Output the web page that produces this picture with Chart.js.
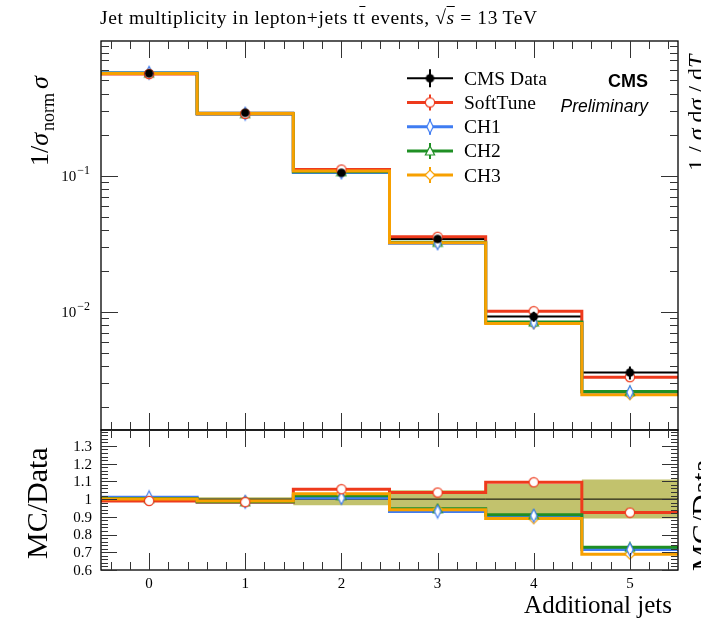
<!DOCTYPE html>
<html>
<head>
<meta charset="utf-8">
<script src="https://cdn.jsdelivr.net/npm/chart.js@4.4.1/dist/chart.umd.min.js"></script>
<style>
  html, body { margin: 0; padding: 0; background: #fff; }
  #wrap { position: relative; width: 701px; height: 629px; overflow: hidden; background: #fff; }
  #wrap canvas { position: absolute; left: 0; top: 0; }
  #title {
    position: absolute; left: 100px; top: 8px; line-height: 19px;
    font-family: "Liberation Serif", serif; font-size: 19.5px; letter-spacing: 0.6px;
    white-space: nowrap; color: #000;
  }
  .ol { text-decoration: overline; }
  .it { font-style: italic; }
</style>
</head>
<body>
<div id="wrap">
  <canvas id="mainChart" width="701" height="629"></canvas>
  <canvas id="ratioChart" width="701" height="629"></canvas>
  <div id="title">Jet multiplicity in lepton+jets t<span class="ol">t</span> events, &#8730;<span class="ol it">s</span> = 13&#8201;TeV</div>
</div>
<script>
// ---- values -------------------------------------------------------------
const jetBins = [0, 1, 2, 3, 4, 5];
const binEdges = [-0.5, 0.5, 1.5, 2.5, 3.5, 4.5, 5.5];
const xTickLabels = ['0', '1', '2', '3', '4', '5'];

// normalised cross section per jet-multiplicity bin
const cmsData   = [0.563, 0.289, 0.105, 0.0343, 0.00924, 0.00359];
const dataRelErr = [0.01, 0.01, 0.035, 0.05, 0.085, 0.11];
const softTune  = [0.557, 0.284, 0.1109, 0.0356, 0.01012, 0.00332];
const ch1       = [0.569, 0.285, 0.1056, 0.0319, 0.00838, 0.00257];
const ch2       = [0.565, 0.285, 0.1070, 0.0324, 0.00843, 0.00261];
const ch3       = [0.563, 0.286, 0.1082, 0.0322, 0.00822, 0.00247];

// MC / Data
const dataRatio     = [1, 1, 1, 1, 1, 1];
const softTuneRatio = [0.990, 0.983, 1.056, 1.037, 1.095, 0.924];
const ch1Ratio      = [1.010, 0.985, 1.006, 0.930, 0.907, 0.715];
const ch2Ratio      = [1.003, 0.985, 1.019, 0.945, 0.912, 0.728];
const ch3Ratio      = [1.000, 0.990, 1.030, 0.940, 0.890, 0.689];

const ratioTickValues = [0.6, 0.7, 0.8, 0.9, 1.0, 1.1, 1.2, 1.3];
const ratioTickLabels = ['0.6', '0.7', '0.8', '0.9', '1', '1.1', '1.2', '1.3'];
const logLabelDecades = [-1, -2];

// ---- styling ------------------------------------------------------------
const COL = {
  data: '#000000',
  soft: '#ee3a1c',
  ch1: '#3f7cf2',
  ch2: '#1f8f24',
  ch3: '#f7a000',
  band: '#c2c26d'
};
const SERIF = '"Liberation Serif", serif';
const SANS = '"Liberation Sans", sans-serif';

// small marker images used as point styles and in the legend
function markerCanvas(w, h, draw) {
  const c = document.createElement('canvas');
  c.width = w; c.height = h;
  const g = c.getContext('2d');
  draw(g, w, h);
  return c;
}
const mkData = markerCanvas(11, 11, (g) => {
  g.fillStyle = '#000'; g.beginPath(); g.arc(5.5, 5.5, 4.3, 0, Math.PI * 2); g.fill();
});
const mkCircle = (col) => markerCanvas(12, 12, (g) => {
  g.fillStyle = '#fff'; g.strokeStyle = col; g.lineWidth = 1.2;
  g.beginPath(); g.arc(6, 6, 4.6, 0, Math.PI * 2); g.fill(); g.stroke();
});
const mkNarrowDiamond = (col) => markerCanvas(10, 16, (g) => {
  g.fillStyle = '#fff'; g.strokeStyle = col; g.lineWidth = 1.2;
  g.beginPath(); g.moveTo(5, 1.5); g.lineTo(8.2, 8); g.lineTo(5, 14.5); g.lineTo(1.8, 8); g.closePath();
  g.fill(); g.stroke();
});
const mkTriangle = (col) => markerCanvas(12, 12, (g) => {
  g.fillStyle = '#fff'; g.strokeStyle = col; g.lineWidth = 1.2;
  g.beginPath(); g.moveTo(6, 1.2); g.lineTo(10.6, 10); g.lineTo(1.4, 10); g.closePath();
  g.fill(); g.stroke();
});
const mkDiamond = (col) => markerCanvas(12, 12, (g) => {
  g.fillStyle = '#fff'; g.strokeStyle = col; g.lineWidth = 1.2;
  g.beginPath(); g.moveTo(6, 1); g.lineTo(11, 6); g.lineTo(6, 11); g.lineTo(1, 6); g.closePath();
  g.fill(); g.stroke();
});

const series = [
  { label: 'CMS Data', vals: cmsData,  ratio: dataRatio,     color: COL.data, width: 2, marker: mkData, stem: 9 },
  { label: 'SoftTune', vals: softTune, ratio: softTuneRatio, color: COL.soft, width: 3, marker: mkCircle(COL.soft), stem: 8 },
  { label: 'CH1',      vals: ch1,      ratio: ch1Ratio,      color: COL.ch1,  width: 3, marker: mkNarrowDiamond(COL.ch1), stem: 8 },
  { label: 'CH2',      vals: ch2,      ratio: ch2Ratio,      color: COL.ch2,  width: 3, marker: mkTriangle(COL.ch2), stem: 8 },
  { label: 'CH3',      vals: ch3,      ratio: ch3Ratio,      color: COL.ch3,  width: 3, marker: mkDiamond(COL.ch3), stem: 8 }
];

// histogram outline: each bin becomes a flat segment between its edges
function histPoints(vals) {
  const pts = [];
  vals.forEach((v, i) => { pts.push({ x: binEdges[i], y: v }); pts.push({ x: binEdges[i + 1], y: v }); });
  return pts;
}
function centrePoints(vals) { return jetBins.map((b, i) => ({ x: b, y: vals[i] })); }

function histDataset(vals, color, width, order) {
  return {
    data: histPoints(vals), borderColor: color, borderWidth: width, pointRadius: 0,
    fill: false, tension: 0, borderJoinStyle: 'miter', borderCapStyle: 'butt', order: order
  };
}
function markerDataset(vals, img, order, tag) {
  return {
    data: centrePoints(vals), showLine: false, pointStyle: img, pointRadius: 5,
    pointHoverRadius: 5, order: order, tag: tag
  };
}

// ---- shared drawing helpers ----------------------------------------------
function drawFrame(ctx, a) {
  ctx.save();
  ctx.strokeStyle = '#000'; ctx.lineWidth = 1.3;
  ctx.strokeRect(a.left, a.top, a.right - a.left, a.bottom - a.top);
  ctx.restore();
}
function drawXTicks(ctx, xs, a) {
  ctx.save();
  ctx.strokeStyle = '#333'; ctx.lineWidth = 1;
  ctx.beginPath();
  for (let k = -1; k <= 5; k++) {
    for (let m = 0; m < 5; m++) {
      const v = k + m * 0.2;
      if (v <= xs.min + 1e-6 || v >= xs.max - 1e-6) continue;
      const len = m === 0 ? 17 : 8;
      const px = Math.round(xs.getPixelForValue(v)) + 0.5;
      ctx.moveTo(px, a.top); ctx.lineTo(px, a.top + len);
      ctx.moveTo(px, a.bottom); ctx.lineTo(px, a.bottom - len);
    }
  }
  ctx.stroke();
  ctx.restore();
}
function yTickLine(ctx, a, py, len) {
  const y = Math.round(py) + 0.5;
  ctx.moveTo(a.left, y); ctx.lineTo(a.left + len, y);
  ctx.moveTo(a.right, y); ctx.lineTo(a.right - len, y);
}
function drawRotatedRuns(ctx, x, y, runs) {
  ctx.save();
  ctx.translate(x, y); ctx.rotate(-Math.PI / 2);
  ctx.fillStyle = '#000'; ctx.textBaseline = 'alphabetic'; ctx.textAlign = 'left';
  let cx = 0;
  for (const r of runs) {
    ctx.font = r.font;
    ctx.fillText(r.text, cx, r.dy || 0);
    cx += ctx.measureText(r.text).width + (r.gap || 0);
  }
  ctx.restore();
}

// ---- main panel ---------------------------------------------------------
const mainDecor = {
  id: 'mainDecor',
  beforeDatasetDraw(chart, args) {
    // data error bars go just under the data markers
    if (chart.data.datasets[args.index].tag !== 'dataMarkers') return;
    const ctx = chart.ctx, xs = chart.scales.x, ys = chart.scales.y;
    ctx.save();
    ctx.strokeStyle = '#000'; ctx.lineWidth = 2;
    ctx.beginPath();
    cmsData.forEach((v, i) => {
      const px = xs.getPixelForValue(jetBins[i]);
      ctx.moveTo(px, ys.getPixelForValue(v * (1 - dataRelErr[i])));
      ctx.lineTo(px, ys.getPixelForValue(v * (1 + dataRelErr[i])));
    });
    ctx.stroke();
    ctx.restore();
  },
  afterDraw(chart) {
    const ctx = chart.ctx, a = chart.chartArea, xs = chart.scales.x, ys = chart.scales.y;
    drawFrame(ctx, a);
    drawXTicks(ctx, xs, a);

    // logarithmic y ticks
    ctx.save();
    ctx.strokeStyle = '#333'; ctx.lineWidth = 1;
    ctx.beginPath();
    for (let d = -3; d <= 0; d++) {
      for (let m = 1; m <= 9; m++) {
        const v = m * Math.pow(10, d);
        if (v < ys.min || v > ys.max) continue;
        yTickLine(ctx, a, ys.getPixelForValue(v), m === 1 ? 17 : 8);
      }
    }
    ctx.stroke();
    ctx.restore();

    // decade labels 10^-n
    ctx.save();
    ctx.fillStyle = '#000'; ctx.textBaseline = 'alphabetic'; ctx.textAlign = 'left';
    logLabelDecades.forEach((d) => {
      const py = ys.getPixelForValue(Math.pow(10, d));
      ctx.font = '15px ' + SERIF;
      const base = '10', w1 = ctx.measureText(base).width;
      ctx.font = '12px ' + SERIF;
      const sup = '\u2212' + Math.abs(d), w2 = ctx.measureText(sup).width;
      const x0 = 90 - w1 - w2 - 1;
      ctx.font = '15px ' + SERIF;
      ctx.fillText(base, x0, py + 5);
      ctx.font = '12px ' + SERIF;
      ctx.fillText(sup, x0 + w1 + 1, py - 1.5);
    });
    ctx.restore();

    // legend
    ctx.save();
    series.forEach((s, i) => {
      const ly = 78.3 + i * 24.2;
      ctx.strokeStyle = s.color; ctx.lineWidth = s.width;
      ctx.beginPath(); ctx.moveTo(407, ly); ctx.lineTo(453, ly); ctx.stroke();
      ctx.lineWidth = 2;
      ctx.beginPath(); ctx.moveTo(430, ly - s.stem); ctx.lineTo(430, ly + s.stem); ctx.stroke();
      ctx.drawImage(s.marker, 430 - s.marker.width / 2, ly - s.marker.height / 2);
      ctx.fillStyle = '#000'; ctx.font = '19.5px ' + SERIF;
      ctx.textAlign = 'left'; ctx.textBaseline = 'alphabetic';
      ctx.fillText(s.label, 464, ly + 6.5);
    });
    ctx.restore();

    // experiment tag
    ctx.save();
    ctx.fillStyle = '#000'; ctx.textAlign = 'right'; ctx.textBaseline = 'alphabetic';
    ctx.font = 'bold 18px ' + SANS; ctx.fillText('CMS', 648, 87);
    ctx.font = 'italic 17.5px ' + SANS; ctx.fillText('Preliminary', 648, 112);
    ctx.restore();

    // y-axis title
    drawRotatedRuns(ctx, 48, 166, [
      { text: '1/', font: '26px ' + SERIF },
      { text: '\u03c3', font: 'italic 26px ' + SERIF, gap: 2 },
      { text: 'norm', font: '18px ' + SERIF, dy: 6, gap: 4 },
      { text: '\u03c3', font: 'italic 26px ' + SERIF }
    ]);
    // neighbouring panel's axis title at the right edge
    drawRotatedRuns(ctx, 704, 171, [
      { text: '1 / ', font: '24px ' + SERIF },
      { text: '\u03c3', font: 'italic 24px ' + SERIF },
      { text: ' d', font: '24px ' + SERIF },
      { text: '\u03c3', font: 'italic 24px ' + SERIF },
      { text: ' / d', font: '24px ' + SERIF },
      { text: 'T', font: 'italic 24px ' + SERIF }
    ]);
  }
};

const mainDatasets = [
  markerDataset(cmsData, mkData, 0, 'dataMarkers'),
  markerDataset(softTune, series[1].marker, 1, 'mc'),
  markerDataset(ch1, series[2].marker, 1, 'mc'),
  markerDataset(ch2, series[3].marker, 1, 'mc'),
  markerDataset(ch3, series[4].marker, 1, 'mc'),
  histDataset(ch3, COL.ch3, 3, 2),
  histDataset(ch2, COL.ch2, 3, 3),
  histDataset(ch1, COL.ch1, 3, 4),
  histDataset(softTune, COL.soft, 3, 5),
  histDataset(cmsData, COL.data, 2, 6)
];

new Chart(document.getElementById('mainChart'), {
  type: 'line',
  data: { datasets: mainDatasets },
  options: {
    responsive: false, animation: false, devicePixelRatio: 1,
    layout: { padding: { left: 101, top: 41, right: 23, bottom: 199 } },
    scales: {
      x: { type: 'linear', min: -0.5, max: 5.5, display: false },
      y: { type: 'logarithmic', min: 0.00136, max: 0.973, display: false }
    },
    plugins: { legend: { display: false }, tooltip: { enabled: false } },
    events: []
  },
  plugins: [mainDecor]
});

// ---- ratio panel --------------------------------------------------------
const bandLow  = dataRatio.map((r, i) => r - dataRelErr[i]);
const bandHigh = dataRatio.map((r, i) => r + dataRelErr[i]);

const ratioDecor = {
  id: 'ratioDecor',
  afterDraw(chart) {
    const ctx = chart.ctx, a = chart.chartArea, xs = chart.scales.x, ys = chart.scales.y;
    drawFrame(ctx, a);
    drawXTicks(ctx, xs, a);

    ctx.save();
    ctx.strokeStyle = '#333'; ctx.lineWidth = 1;
    ctx.beginPath();
    for (let k = 30; k <= 140; k += 2) {
      const v = k / 100;
      if (v < ys.min - 1e-9 || v > ys.max + 1e-9) continue;
      yTickLine(ctx, a, ys.getPixelForValue(v), k % 10 === 0 ? 16 : 7);
    }
    ctx.stroke();
    ctx.restore();

    ctx.save();
    ctx.fillStyle = '#000'; ctx.font = '15px ' + SERIF;
    ctx.textAlign = 'right'; ctx.textBaseline = 'middle';
    ratioTickValues.forEach((v, i) => ctx.fillText(ratioTickLabels[i], 92, ys.getPixelForValue(v) + 1));
    ctx.textAlign = 'center';
    jetBins.forEach((b, i) => ctx.fillText(xTickLabels[i], xs.getPixelForValue(b), 584));
    ctx.font = '25px ' + SERIF; ctx.textAlign = 'right'; ctx.textBaseline = 'alphabetic';
    ctx.fillText('Additional jets', 672, 613);
    ctx.restore();

    drawRotatedRuns(ctx, 47, 559, [{ text: 'MC/Data', font: '30px ' + SERIF }]);
    drawRotatedRuns(ctx, 712, 571, [{ text: 'MC/Data', font: '30px ' + SERIF }]);
  }
};

const ratioDatasets = [
  markerDataset(softTuneRatio, series[1].marker, 0, 'mc'),
  markerDataset(ch1Ratio, series[2].marker, 0, 'mc'),
  markerDataset(ch2Ratio, series[3].marker, 0, 'mc'),
  markerDataset(ch3Ratio, series[4].marker, 0, 'mc'),
  histDataset(ch3Ratio, COL.ch3, 3, 2),
  histDataset(ch2Ratio, COL.ch2, 3, 3),
  histDataset(ch1Ratio, COL.ch1, 3, 4),
  histDataset(softTuneRatio, COL.soft, 3, 5),
  histDataset(dataRatio, '#000', 1, 6),
  histDataset(bandLow, 'rgba(0,0,0,0)', 0, 8),
  Object.assign(histDataset(bandHigh, 'rgba(0,0,0,0)', 0, 7), { fill: '-1', backgroundColor: COL.band })
];

new Chart(document.getElementById('ratioChart'), {
  type: 'line',
  data: { datasets: ratioDatasets },
  options: {
    responsive: false, animation: false, devicePixelRatio: 1,
    layout: { padding: { left: 101, top: 430, right: 23, bottom: 59 } },
    scales: {
      x: { type: 'linear', min: -0.5, max: 5.5, display: false },
      y: { type: 'linear', min: 0.6, max: 1.39, display: false }
    },
    plugins: { legend: { display: false }, tooltip: { enabled: false }, filler: { drawTime: 'beforeDatasetsDraw' } },
    events: []
  },
  plugins: [ratioDecor]
});
</script>
</body>
</html>
